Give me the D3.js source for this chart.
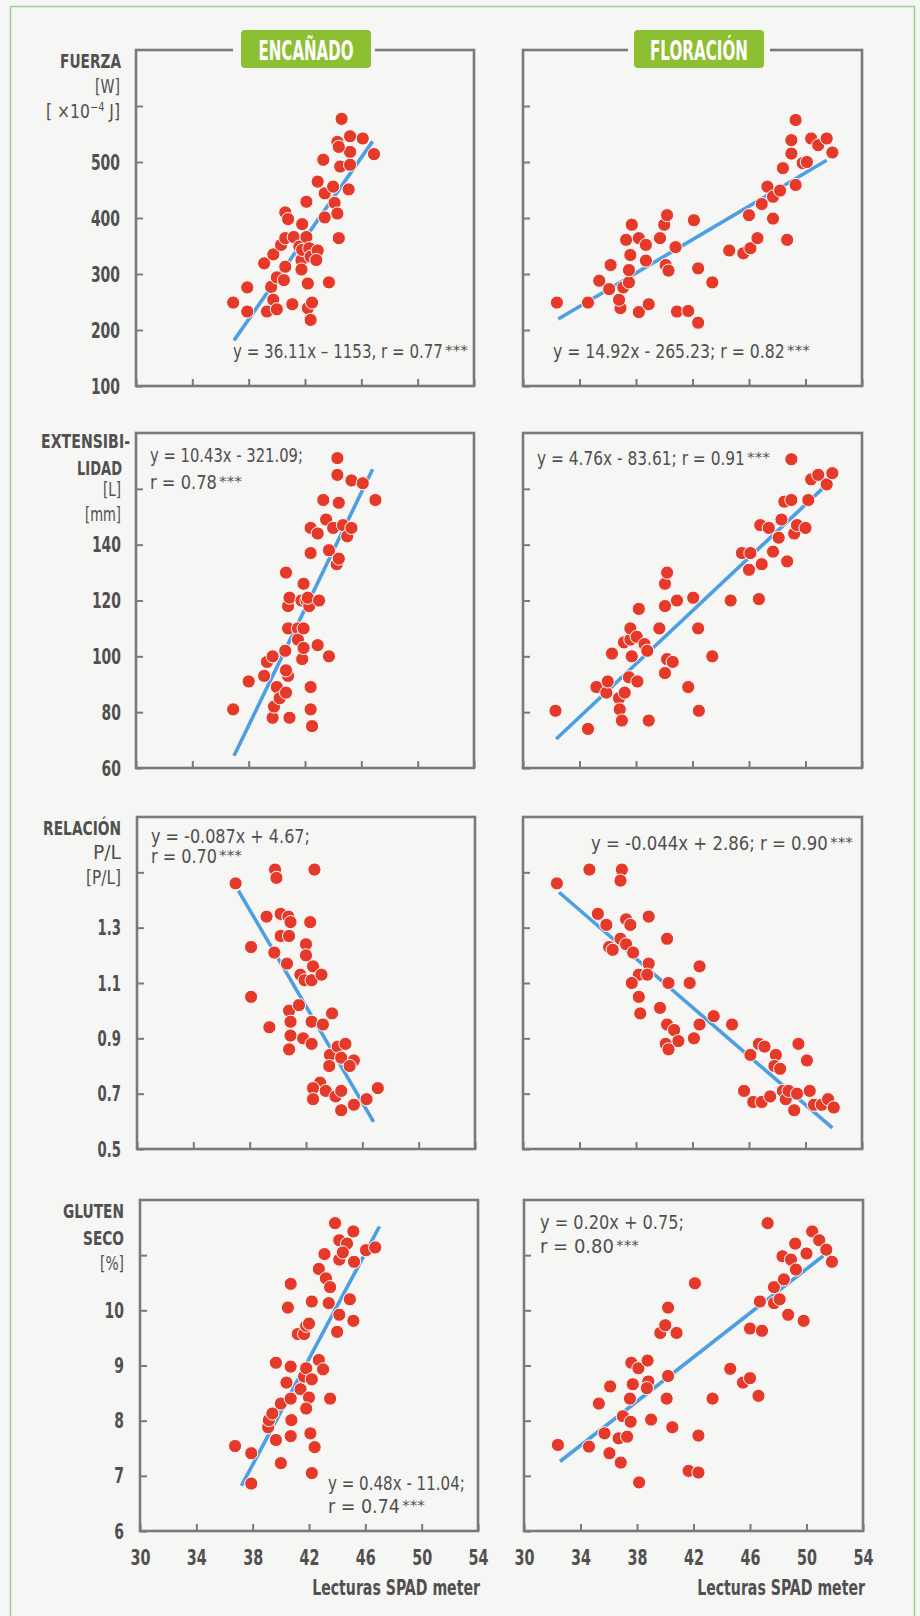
<!DOCTYPE html>
<html>
<head>
<meta charset="utf-8">
<script src="https://cdn.jsdelivr.net/npm/d3@7"></script>
<style>
html, body { margin: 0; padding: 0; background: #f6f6f4; }
svg { display: block; }
text { font-family: "Liberation Sans Narrow", "DejaVu Sans Condensed", "Roboto Condensed", "Liberation Sans", sans-serif; }
</style>
</head>
<body>
<svg id="chart"></svg>
<script>
// ---- data ----
var spadTicks = [30, 34, 38, 42, 46, 50, 54];
var stageNames = ["ENCAÑADO", "FLORACIÓN"];
var axisTitle = "Lecturas SPAD meter";

var yDomains = [[100, 700], [60, 180], [0.5, 1.7], [6, 12]];
var yTicks = [[100, 200, 300, 400, 500, 600], [60, 80, 100, 120, 140, 160], [0.5, 0.7, 0.9, 1.1, 1.3, 1.5], [6, 7, 8, 9, 10, 11]];
var yLabels = [["100", "200", "300", "400", "500"], ["60", "80", "100", "120", "140"], ["0.5", "0.7", "0.9", "1.1", "1.3"], ["6", "7", "8", "9", "10"]];
var rowTitles = [["FUERZA", "[W]", "[ ×10|−4| J]"], ["EXTENSIBI-", "LIDAD", "[L]", "[mm]"], ["RELACIÓN", "P/L", "[P/L]"], ["GLUTEN", "SECO", "[%]"]];

// Fuerza (W)
var fuerzaEnc = [[36.9,249],[37.9,276],[37.9,233],[39.1,319],[39.75,335],[39.6,277],[39.75,254],[39.3,233],[40.0,237],[40.0,294],[40.5,289],[40.6,313],[40.3,352],[40.6,364],[40.6,410],[40.8,398],[41.1,246],[41.2,366],[41.8,389],[41.6,349],[41.75,325],[41.75,308],[41.8,343],[42.1,366],[42.1,429],[42.2,283],[42.2,239],[42.5,249],[42.4,218],[42.3,346],[42.4,331],[42.9,342],[42.8,325],[42.9,465],[43.3,504],[43.4,444],[43.4,401],[43.7,285],[44.0,456],[44.1,427],[44.3,408],[44.4,364],[44.5,492],[44.3,536],[44.6,577],[45.2,546],[45.2,518],[45.2,495],[45.1,451],[46.1,542],[46.9,514],[44.4,527]];
var fuerzaFlo = [[32.4,249],[34.6,249],[35.4,288],[36.1,273],[36.2,316],[36.9,239],[36.8,254],[37.1,276],[37.5,285],[37.5,307],[37.6,334],[37.3,361],[37.7,388],[38.2,364],[38.2,232],[38.7,352],[38.7,324],[38.9,246],[39.7,364],[40.0,388],[40.2,405],[40.1,316],[40.3,306],[40.8,348],[40.9,233],[41.7,234],[42.1,396],[42.4,310],[42.4,213],[43.4,285],[44.6,342],[45.6,337],[46.1,346],[46.0,405],[46.6,364],[46.9,425],[47.3,456],[47.7,438],[47.7,399],[48.2,449],[48.4,489],[48.7,361],[49.0,515],[49.0,539],[49.3,459],[49.3,575],[49.8,498],[50.1,500],[50.4,542],[50.9,530],[51.5,542],[51.9,517]];
// Extensibilidad (L)
var extEnc = [[36.9,81],[38.0,91],[39.1,93],[39.3,98],[39.7,100],[39.7,78],[39.8,82],[40.0,89],[40.2,85],[40.65,87],[40.8,93],[40.65,95],[40.6,102],[40.9,78],[40.8,110],[40.8,118],[40.9,121],[40.65,130],[41.5,110],[41.5,106],[41.8,99],[41.9,103],[41.9,110],[41.9,126],[41.75,120],[42.1,120],[42.3,118],[42.4,89],[42.4,81],[42.5,75],[42.2,121],[43.0,120],[42.9,104],[43.7,100],[42.4,137],[42.4,146],[42.9,144],[43.5,149],[43.7,138],[43.3,156],[44.0,146],[44.25,133],[44.4,135],[44.3,171],[44.3,165],[44.4,155],[44.7,147],[45.0,143],[45.3,146],[45.3,163],[46.1,162],[47.0,156]];
var extFlo = [[32.3,80.5],[34.6,74],[35.2,89],[35.9,87],[36.0,91],[36.3,101],[36.8,85],[36.85,81],[37.0,77],[37.2,87],[37.5,92.5],[38.1,91],[37.7,100],[37.15,105],[37.6,106],[37.6,110],[38.05,107],[38.2,117],[38.6,104.4],[38.8,102],[38.9,77],[39.65,110],[40.05,94],[40.2,99],[40.6,98],[40.05,118],[40.05,126],[40.2,130],[40.9,120],[41.7,89],[42.05,121],[42.4,110],[42.45,80.5],[43.4,100],[44.7,120],[45.5,137],[46.1,137],[46.0,131],[46.7,120.5],[46.9,133],[46.8,147],[47.4,146],[47.7,137.5],[48.1,142.5],[48.3,149],[48.7,134],[48.5,155.4],[49.0,156],[49.0,170.6],[49.2,144],[49.4,147],[50.0,146],[50.2,156],[50.4,163.4],[50.9,165],[51.5,161.6],[51.9,165.6]];
// Relación P/L
var relEnc = [[37.0,1.46],[38.1,1.23],[38.1,1.05],[39.2,1.34],[39.4,0.94],[39.75,1.21],[39.8,1.51],[39.9,1.48],[40.2,1.35],[40.2,1.27],[40.65,1.17],[40.75,1.34],[40.9,1.32],[40.8,1.27],[40.8,1.00],[40.9,0.96],[40.9,0.91],[40.8,0.86],[41.5,1.02],[41.6,1.13],[41.9,1.11],[41.8,0.90],[42.0,1.24],[42.0,1.20],[42.3,1.32],[42.4,1.11],[42.5,1.16],[43.1,1.13],[42.6,1.51],[42.4,0.96],[42.4,0.88],[43.2,0.95],[43.85,0.99],[43.7,0.84],[43.65,0.80],[44.25,0.87],[44.8,0.88],[44.5,0.83],[45.4,0.82],[45.1,0.80],[43.0,0.74],[42.5,0.72],[42.5,0.68],[43.4,0.71],[44.1,0.69],[44.5,0.71],[44.5,0.64],[45.4,0.66],[46.3,0.68],[47.1,0.72]];
var relFlo = [[32.4,1.46],[34.7,1.51],[37.0,1.51],[36.9,1.47],[35.3,1.35],[35.9,1.31],[37.3,1.33],[37.6,1.31],[36.1,1.23],[36.35,1.22],[36.9,1.26],[37.3,1.24],[37.8,1.21],[38.9,1.34],[40.2,1.26],[38.9,1.17],[38.2,1.13],[38.8,1.13],[37.7,1.10],[38.2,1.05],[38.3,0.99],[39.7,1.01],[40.3,1.10],[41.8,1.10],[42.5,1.16],[40.2,0.95],[40.7,0.93],[41.0,0.89],[40.1,0.88],[40.3,0.86],[42.1,0.90],[42.5,0.95],[43.5,0.98],[44.8,0.95],[46.1,0.84],[46.7,0.88],[47.1,0.87],[47.9,0.84],[47.8,0.80],[48.2,0.79],[49.5,0.88],[50.1,0.82],[45.65,0.71],[46.3,0.67],[46.9,0.67],[47.5,0.69],[48.4,0.71],[48.6,0.68],[48.8,0.71],[49.4,0.70],[49.2,0.64],[50.3,0.71],[50.6,0.66],[51.15,0.66],[51.6,0.68],[52.0,0.65]];
// Gluten seco (%)
var glutEnc = [[36.75,7.54],[37.9,7.41],[37.9,6.86],[39.1,7.88],[39.15,8.01],[39.4,8.13],[39.65,7.65],[39.65,9.05],[40.0,7.23],[40.0,8.31],[40.4,8.69],[40.7,8.98],[40.7,8.40],[40.75,8.01],[40.7,7.72],[40.7,10.48],[40.5,10.05],[41.2,9.57],[41.65,9.57],[41.8,9.72],[42.0,9.76],[41.4,8.57],[41.65,8.80],[41.8,8.95],[42.2,8.75],[42.0,8.42],[41.8,8.22],[42.1,7.77],[42.4,7.52],[42.2,7.05],[42.2,10.16],[42.7,9.10],[43.0,8.93],[43.5,8.40],[42.7,10.75],[43.1,11.02],[43.2,10.58],[43.5,10.42],[43.4,10.13],[43.85,11.58],[44.15,11.27],[44.15,10.92],[44.7,11.21],[44.4,11.05],[45.15,11.43],[45.2,10.88],[44.15,9.92],[44.0,9.61],[44.9,10.20],[45.15,9.81],[46.05,11.09],[46.7,11.14]];
var glutFlo = [[32.4,7.56],[34.6,7.53],[35.3,8.31],[35.7,7.77],[36.05,7.41],[36.1,8.62],[36.7,7.68],[36.85,7.24],[37.0,8.08],[37.3,7.71],[37.5,8.40],[37.55,7.98],[37.6,9.05],[37.7,8.66],[38.1,8.95],[38.15,6.88],[38.75,9.09],[38.8,8.71],[38.7,8.59],[39.0,8.02],[39.65,9.59],[40.0,9.73],[40.1,8.40],[40.2,8.81],[40.2,10.05],[40.5,7.88],[40.8,9.59],[41.65,7.09],[42.1,10.49],[42.35,7.06],[42.35,7.73],[43.35,8.40],[44.6,8.94],[45.5,8.69],[46.0,8.77],[46.0,9.67],[46.6,8.45],[46.85,9.63],[46.7,10.16],[47.7,10.13],[48.1,10.20],[47.7,10.42],[48.4,10.56],[48.7,9.92],[48.3,10.98],[48.9,10.92],[49.25,10.74],[49.2,11.21],[47.25,11.58],[49.8,9.81],[50.0,11.03],[50.4,11.43],[50.9,11.27],[51.4,11.10],[51.8,10.88]];

// regression line end points
var fitFuerzaEnc = [[36.96,181.5],[46.8,536.8]];
var fitFuerzaFlo = [[32.5,219.7],[51.5,503.2]];
var fitExtEnc = [[36.96,64.4],[46.8,167.0]];
var fitExtFlo = [[32.35,70.4],[51.5,161.5]];
var fitRelEnc = [[37.2,1.434],[46.8,0.598]];
var fitRelFlo = [[32.55,1.428],[51.9,0.576]];
var fitGlutEnc = [[37.2,6.82],[47.0,11.52]];
var fitGlutFlo = [[32.55,7.26],[51.2,10.99]];

var eqFuerzaEnc = ["y = 36.11x – 1153, r = 0.77"];
var eqFuerzaFlo = ["y = 14.92x - 265.23; r = 0.82"];
var eqExtEnc = ["y = 10.43x - 321.09;", "r = 0.78"];
var eqExtFlo = ["y = 4.76x - 83.61; r = 0.91"];
var eqRelEnc = ["y = -0.087x + 4.67;", "r = 0.70"];
var eqRelFlo = ["y = -0.044x + 2.86; r = 0.90"];
var eqGlutEnc = ["y = 0.48x - 11.04;", "r  = 0.74"];
var eqGlutFlo = ["y = 0.20x + 0.75;", "r  = 0.80"];
var signif = "***";

// ---- layout ----
var W = 920, H = 1616;
var bg = "#f6f6f4", ink = "#505050", frameCol = "#7a7a7a";
var dotCol = "#e53a2a", lineCol = "#4c9fe3", badgeCol = "#8dbf33";

var rowTop = [50, 433, 817, 1200];
var rowBot = [386, 768, 1149, 1531];
var colLeft = [[136, 523], [136, 523], [137, 523], [140, 524]];
var colWidth = [338, 339];
var labelRight = [120, 121, 121, 124];

var titleLayout = [
    [{x: 121, y: 68, len: 61, bold: true}, {x: 120, y: 93, len: 25}, {x: 120, y: 118, len: 74}],
    [{x: 130, y: 448, len: 89, bold: true}, {x: 122, y: 475, len: 45, bold: true}, {x: 121, y: 496, len: 18}, {x: 121, y: 521, len: 36}],
    [{x: 121, y: 835, len: 78, bold: true}, {x: 121, y: 859, len: 28}, {x: 121, y: 884, len: 35}],
    [{x: 124, y: 1218, len: 61, bold: true}, {x: 124, y: 1245, len: 41, bold: true}, {x: 124, y: 1270, len: 24}]
];

var panels = [
    {row: 0, col: 0, pts: fuerzaEnc, fit: fitFuerzaEnc, eq: eqFuerzaEnc, eqX: 233, eqY: [358], eqLen: [210]},
    {row: 0, col: 1, pts: fuerzaFlo, fit: fitFuerzaFlo, eq: eqFuerzaFlo, eqX: 553, eqY: [358], eqLen: [232]},
    {row: 1, col: 0, pts: extEnc, fit: fitExtEnc, eq: eqExtEnc, eqX: 150, eqY: [462, 489], eqLen: [153, 67]},
    {row: 1, col: 1, pts: extFlo, fit: fitExtFlo, eq: eqExtFlo, eqX: 537, eqY: [465], eqLen: [208]},
    {row: 2, col: 0, pts: relEnc, fit: fitRelEnc, eq: eqRelEnc, eqX: 151, eqY: [843, 863], eqLen: [159, 66]},
    {row: 2, col: 1, pts: relFlo, fit: fitRelFlo, eq: eqRelFlo, eqX: 591, eqY: [850], eqLen: [237]},
    {row: 3, col: 0, pts: glutEnc, fit: fitGlutEnc, eq: eqGlutEnc, eqX: 328, eqY: [1490, 1513], eqLen: [137, 72]},
    {row: 3, col: 1, pts: glutFlo, fit: fitGlutFlo, eq: eqGlutFlo, eqX: 540, eqY: [1229, 1253], eqLen: [144, 74]}
];

// condensed width of a numeric label (digits ~9.7px, point ~4px)
function numWidth(s, digit) {
    var w = 0;
    for (var i = 0; i < s.length; i++) w += (s[i] === ".") ? 4 : digit;
    return w;
}

// squeeze a text horizontally to a target width, around its own anchor point
function squeeze(sel, target) {
    var node = sel.node();
    var w = node.getComputedTextLength();
    if (!w || !target) return sel;
    var k = target / w;
    var ax = +sel.attr("x") || 0, ay = +sel.attr("y") || 0;
    sel.attr("transform", "translate(" + ax + "," + ay + ") scale(" + k + ",1) translate(" + (-ax) + "," + (-ay) + ")");
    return sel;
}

var svg = d3.select("#chart").attr("width", W).attr("height", H);

svg.append("rect").attr("width", W).attr("height", H).attr("fill", bg);
svg.append("rect")
    .attr("x", 10.5).attr("y", 6.5)
    .attr("width", 904).attr("height", 1660)
    .attr("fill", "none")
    .attr("stroke", "#a5d08e")
    .attr("stroke-width", 1.5);

function addText(sel, str, x, y, o) {
    var t = sel.append("text")
        .attr("x", x).attr("y", y)
        .attr("font-size", o.size)
        .attr("font-weight", o.bold ? "bold" : "normal")
        .attr("fill", o.fill || ink)
        .attr("text-anchor", o.anchor || "start")
        .text(str);
    if (o.len) squeeze(t, o.len);
    return t;
}

function drawPanel(p) {
    var x0 = colLeft[p.row][p.col], x1 = x0 + colWidth[p.col];
    var y0 = rowTop[p.row], y1 = rowBot[p.row];
    var x = d3.scaleLinear().domain([30, 54]).range([x0, x1]);
    var y = d3.scaleLinear().domain(yDomains[p.row]).range([y1, y0]);
    var g = svg.append("g");

    // y axis, ticks inward
    var yAxis = d3.axisLeft(y)
        .tickValues(yTicks[p.row])
        .tickSize(-7)
        .tickPadding(x0 - labelRight[p.row])
        .tickFormat(function (d, i) {
            return (p.col === 0 && yLabels[p.row][i] != null) ? yLabels[p.row][i] : "";
        });
    var ga = g.append("g")
        .attr("transform", "translate(" + x0 + ",0)")
        .call(yAxis);
    ga.select(".domain").remove();
    ga.attr("font-size", 22).attr("font-weight", "bold");
    ga.selectAll(".tick line").attr("stroke", frameCol).attr("stroke-width", 2);
    ga.selectAll(".tick text").attr("fill", ink).each(function () {
        var s = this.textContent;
        if (s) squeeze(d3.select(this), numWidth(s, 9.7));
    });

    // x axis
    var xAxis = d3.axisBottom(x)
        .tickValues(spadTicks)
        .tickSize(-7)
        .tickPadding(18)
        .tickFormat(function (d) { return p.row === 3 ? d : ""; });
    var gx = g.append("g")
        .attr("transform", "translate(0," + y1 + ")")
        .call(xAxis);
    gx.select(".domain").remove();
    gx.attr("font-size", 22).attr("font-weight", "bold");
    gx.selectAll(".tick line").attr("stroke", frameCol).attr("stroke-width", 2);
    gx.selectAll(".tick text").attr("fill", ink).each(function () {
        var s = this.textContent;
        if (s) squeeze(d3.select(this), numWidth(s, 10));
    });

    // frame
    g.append("rect")
        .attr("x", x0).attr("y", y0)
        .attr("width", x1 - x0).attr("height", y1 - y0)
        .attr("fill", "none")
        .attr("stroke", frameCol)
        .attr("stroke-width", 2.6);

    // regression line
    g.append("path")
        .datum(p.fit)
        .attr("d", d3.line().x(function (d) { return x(d[0]); }).y(function (d) { return y(d[1]); }))
        .attr("stroke", lineCol)
        .attr("stroke-width", 3.6)
        .attr("fill", "none");

    // points
    g.append("g")
        .selectAll("circle")
        .data(p.pts)
        .enter()
        .append("circle")
        .attr("cx", function (d) { return x(d[0]); })
        .attr("cy", function (d) { return y(d[1]); })
        .attr("r", 6.6)
        .attr("fill", dotCol)
        .attr("stroke", "#ffffff")
        .attr("stroke-width", 1);

    // equation, then the significance stars raised after the last line
    for (var i = 0; i < p.eq.length; i++) {
        addText(g, p.eq[i], p.eqX, p.eqY[i], {size: 20, len: p.eqLen[i]});
    }
    var last = p.eq.length - 1;
    addText(g, signif, p.eqX + p.eqLen[last] + 2, p.eqY[last] - 3, {size: 14, len: 23});

    // x title under bottom row
    if (p.row === 3) {
        addText(g, axisTitle, x1 + 2, 1595, {size: 21, bold: true, anchor: "end", len: 168});
    }
}

panels.forEach(drawPanel);

// row titles
rowTitles.forEach(function (lines, r) {
    lines.forEach(function (str, i) {
        var L = titleLayout[r][i];
        if (str.indexOf("|") >= 0) {
            var parts = str.split("|");
            var t = svg.append("text")
                .attr("x", L.x).attr("y", L.y)
                .attr("font-size", 19)
                .attr("fill", ink)
                .attr("text-anchor", "end");
            t.append("tspan").text(parts[0]);
            t.append("tspan").attr("dy", -7).attr("font-size", 12).text(parts[1]);
            t.append("tspan").attr("dy", 7).text(parts[2]);
            squeeze(t, L.len);
        } else {
            addText(svg, str, L.x, L.y, {size: 20, bold: L.bold, anchor: "end", len: L.len});
        }
    });
});

// stage badges sitting on the top frame line
var badgeGap = [[233, 375], [628, 770]];
var badgeBox = [[241, 371], [634, 764]];
var badgeTextLen = [95, 98];
stageNames.forEach(function (name, c) {
    svg.append("rect")
        .attr("x", badgeGap[c][0]).attr("y", 40)
        .attr("width", badgeGap[c][1] - badgeGap[c][0]).attr("height", 20)
        .attr("fill", bg);
    svg.append("rect")
        .attr("x", badgeBox[c][0]).attr("y", 30)
        .attr("width", badgeBox[c][1] - badgeBox[c][0]).attr("height", 38)
        .attr("rx", 4).attr("ry", 4)
        .attr("fill", badgeCol);
    addText(svg, name, (badgeBox[c][0] + badgeBox[c][1]) / 2, 60,
        {size: 27, bold: true, fill: "#ffffff", anchor: "middle", len: badgeTextLen[c]});
});
</script>
</body>
</html>
